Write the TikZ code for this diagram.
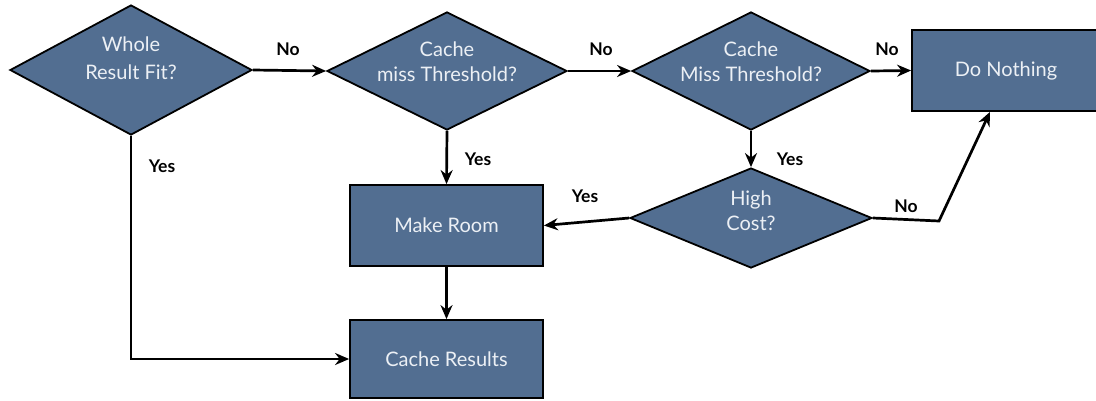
\documentclass[tikz,border=0pt]{standalone}
\usepackage{fontspec}
\setmainfont{Lato}
\usetikzlibrary{shapes.geometric,arrows.meta}
\definecolor{boxfill}{RGB}{82,110,145}
\definecolor{boxtext}{RGB}{236,240,245}
\begin{document}
\begin{tikzpicture}[x=1pt,y=-1pt,
  txt/.style={text=boxtext,font=\fontsize{20}{25}\selectfont,align=center,inner sep=0pt},
  base/.style={draw=black,line width=1.8pt,fill=boxfill,inner sep=0pt},
  decision/.style={base,diamond},
  action/.style={base,rectangle,txt},
  flow/.style={line width=2.7pt,-{Stealth[length=14pt,width=12pt]}},
  tag/.style={font=\fontsize{17.5}{20}\selectfont\bfseries,text=black,inner sep=0pt}]
\clip (0,0) rectangle (1096,400);
\fill[white] (0,0) rectangle (1096,400);

% decisions: outline first, wording laid over it
\node[decision,minimum width=242pt,minimum height=130pt] (fit) at (131,70) {};
\node[decision,minimum width=240pt,minimum height=118pt] (miss1) at (447,71) {};
\node[decision,minimum width=238pt,minimum height=118pt] (miss2) at (751,71) {};
\node[decision,minimum width=242pt,minimum height=100pt] (cost) at (751,218) {};
\node[txt,font=\fontsize{20}{28}\selectfont,yshift=11.5pt] (fitT) at (fit) {Whole\\Result Fit?};
\node[txt,yshift=9.5pt] (miss1T) at (miss1) {Cache\\miss Threshold?};
\node[txt,yshift=9.5pt] (miss2T) at (miss2) {Cache\\Miss Threshold?};
\node[txt,yshift=7.5pt] (costT) at (cost) {High\\Cost?};

% actions
\node[action,minimum width=188pt,minimum height=81pt] (nothing) at (1006,70.5) {Do Nothing};
\node[action,minimum width=193pt,minimum height=81pt] (room) at (446.5,225.5) {Make Room};
\node[action,minimum width=193pt,minimum height=78pt] (cache) at (446.5,359) {Cache Results};

% connectors
\coordinate (bend) at (939,221);
\draw[flow] (fit.east) -- (miss1.west);
\draw[flow] (miss1.east) -- (miss2.west);
\draw[flow] (miss2.east) -- (nothing.west);
\draw[flow] (miss1.south) -- (room.north);
\draw[flow] (miss2.south) -- (cost.north);
\draw[flow] (cost.west) -- (room.east);
\draw[flow] (cost.east) -- (bend) -- (nothing.south west -| 990,0);
\draw[flow] (room.south) -- (cache.north);
\draw[flow] (fit.south) |- (cache.west);

% branch labels
\node[tag] (l1) at (288,49) {No};
\node[tag] (l2) at (601,49) {No};
\node[tag] (l3) at (887,49) {No};
\node[tag] (l4) at (478,159) {Yes};
\node[tag] (l5) at (790,159) {Yes};
\node[tag] (l6) at (585,196) {Yes};
\node[tag] (l7) at (906,206) {No};
\node[tag] (l8) at (162,166) {Yes};
\end{tikzpicture}
\end{document}
